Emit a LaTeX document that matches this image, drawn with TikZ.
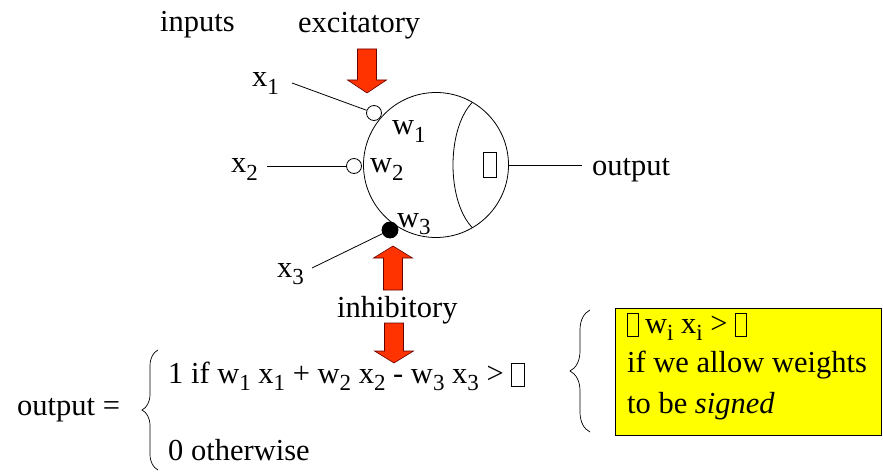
\documentclass[tikz,border=0pt]{standalone}
\usepackage{fontspec}
\setmainfont{Liberation Serif}
\usetikzlibrary{decorations.pathreplacing}
\definecolor{arrred}{RGB}{255,51,0}
\definecolor{boxyellow}{RGB}{255,255,0}
\newcommand\lo[1]{\raisebox{-0.25em}{\fontsize{23}{23}\selectfont #1}}
\newcommand\tofu[2][0.34em]{\raisebox{-0.1em}{\setlength{\fboxsep}{0pt}\setlength{\fboxrule}{0.8pt}\fbox{\rule{0pt}{#2}\hspace{#1}}}}
\begin{document}
\begin{tikzpicture}[x=1pt,y=-1pt,
  every node/.style={font=\fontsize{30.5}{35}\selectfont},
  lbl/.style={anchor=base west, inner sep=0pt},
  thin line/.style={line width=0.8pt},
  syn/.style={circle, draw, fill=white, line width=0.8pt, minimum size=15pt, inner sep=0pt},
  synblk/.style={circle, draw, fill=black, line width=0.8pt, minimum size=16pt, inner sep=0pt},
  bigarrow/.style={fill=arrred, draw=black!60!red, line width=0.6pt},
  bracestyle/.style={decorate, line width=0.7pt}]
\useasboundingbox (0,0) rectangle (883,473);

% neuron
\node[circle, draw, line width=0.8pt, minimum size=145pt, inner sep=0pt] (neuron) at (436,165) {};
\begin{scope}
  \clip (neuron.center) circle (72.5pt);
  \draw[thin line] (488,165) ellipse (35pt and 70pt);
\end{scope}
\node[inner sep=0pt] (theta) at (490,165) {\tofu[0.42em]{0.78em}};

% synapses
\node[syn] (s1) at (374,113) {};
\node[syn] (s2) at (354,166) {};
\node[synblk] (s3) at (390,230) {};

\coordinate (e1) at (292,83);
\coordinate (e2) at (267,166);
\coordinate (e3) at (312,268);
\draw[thin line] (e1) -- (s1);
\draw[thin line] (e2) -- (s2);
\draw[thin line] (e3) -- (s3);

% labels
\node[lbl] (x1) at (252,87) {x\lo{1}};
\node[lbl] (x2) at (231,173) {x\lo{2}};
\node[lbl] (x3) at (277,277) {x\lo{3}};
\node[lbl] (w1) at (392,135) {w\lo{1}};
\node[lbl] (w2) at (370,173) {w\lo{2}};
\node[lbl] (w3) at (397,227) {w\lo{3}};

\node[lbl] (inputs) at (160,32) {inputs};
\node[lbl] (excit) at (298,33) {excitatory};
\node[lbl] (inhib) at (337,317) {inhibitory};

% output
\node[anchor=base west, inner xsep=10pt, inner ysep=0pt] (outl) at (582,176) {output};
\draw[thin line] (neuron.east) -- (neuron.east -| outl.west);

% red arrows
\draw[bigarrow] (357.5,49) -- (376.5,49) -- (376.5,80) -- (386.5,80) -- (367,93) -- (347.5,80) -- (357.5,80) -- cycle;
\draw[bigarrow] (383.5,290) -- (402.5,290) -- (402.5,258) -- (412.5,258) -- (393,246) -- (373.5,258) -- (383.5,258) -- cycle;
\draw[bigarrow] (384.5,323) -- (403.5,323) -- (403.5,351) -- (413.5,351) -- (394,363) -- (374.5,351) -- (384.5,351) -- cycle;

% formula
\node[lbl] (outeq) at (17,415) {output =};
\coordinate (lb1) at (158,470);
\coordinate (lb2) at (158,350);
\draw[bracestyle, decoration={brace, amplitude=16pt}] (lb1) -- (lb2);
\node[lbl] (case1) at (168,383) {1 if w\lo{1} x\lo{1} + w\lo{2} x\lo{2} - w\lo{3} x\lo{3} > \tofu[0.4em]{0.72em}};
\node[lbl] (case2) at (168,460) {0 otherwise};

% right brace and yellow box
\coordinate (rb1) at (590,432);
\coordinate (rb2) at (590,310);
\draw[bracestyle, decoration={brace, amplitude=20pt}] (rb1) -- (rb2);
\node[draw, fill=boxyellow, line width=0.8pt, minimum width=266pt, minimum height=127pt, anchor=north west, inner sep=0pt] (yb) at (615,308) {};
\node[lbl] (y1) at (627,333) {\tofu{0.72em}\hspace{6pt}w\lo{i} x\lo{i} > \tofu{0.72em}};
\node[lbl] (y2) at (627,372) {if we allow weights};
\node[lbl] (y3) at (627,413) {to be \textit{signed}};
\end{tikzpicture}
\end{document}
